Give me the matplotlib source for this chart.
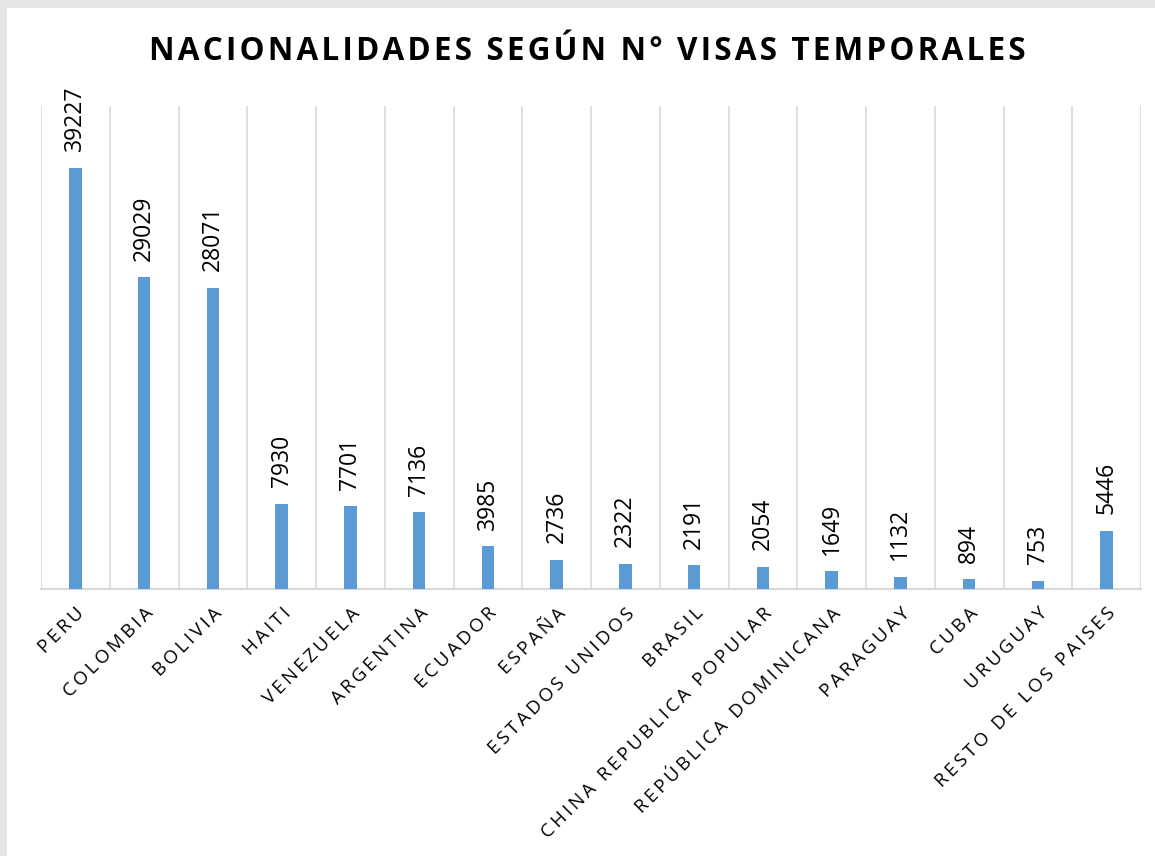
import matplotlib.pyplot as plt
from matplotlib.patches import Rectangle

# data
countries = ['PERU', 'COLOMBIA', 'BOLIVIA', 'HAITI', 'VENEZUELA', 'ARGENTINA',
             'ECUADOR', 'ESPAÑA', 'ESTADOS UNIDOS', 'BRASIL',
             'CHINA REPUBLICA POPULAR', 'REPÚBLICA DOMINICANA', 'PARAGUAY',
             'CUBA', 'URUGUAY', 'RESTO DE LOS PAISES']
visas = [39227, 29029, 28071, 7930, 7701, 7136, 3985, 2736, 2322, 2191,
         2054, 1649, 1132, 894, 753, 5446]

title = 'NACIONALIDADES SEGÚN N° VISAS TEMPORALES'


def spaced(text, sep='\u200a'):
    """Spread letters a little, like the Excel chart does."""
    return sep.join(text)


plt.rcParams['font.family'] = ['Open Sans', 'DejaVu Sans']

fig = plt.figure(figsize=(11.55, 8.56), dpi=100)
fig.patch.set_facecolor('#e6e6e6')
fig.patches.append(Rectangle((7 / 1155, 0), 1, 1 - 8 / 856, transform=fig.transFigure,
                             facecolor='white', edgecolor='none', zorder=-10))

ax = fig.add_axes([41 / 1155, 1 - 589 / 856, 1100 / 1155, 483 / 856])
ax.set_facecolor('none')

x = range(len(countries))
bars = ax.bar(x, visas, width=0.18, color='#5b9bd5', zorder=3)

for xi, v in zip(x, visas):
    ax.annotate(str(v), (xi, v), xytext=(0, 12), textcoords='offset points',
                rotation=90, ha='center', va='bottom', fontsize=16.5, color='black')

ax.set_xlim(-0.5, len(countries) - 0.5)
ax.set_ylim(0, 45000)

# vertical separators between categories
for b in range(len(countries) + 1):
    ax.axvline(b - 0.5, color='#d9d9d9', lw=1.2, zorder=1)

for s in ['left', 'right', 'top']:
    ax.spines[s].set_visible(False)
ax.spines['bottom'].set_color('#d9d9d9')
ax.spines['bottom'].set_linewidth(1.5)
ax.set_yticks([])
ax.set_xticks(list(x))
ax.set_xticklabels([spaced(c, '\u2009') for c in countries], rotation=45, ha='right',
                   rotation_mode='anchor', fontsize=13.5)
ax.tick_params(axis='x', length=0, pad=11)

fig.text(587 / 1155, 1 - 52 / 856, spaced(title), ha='center', va='center',
         fontsize=22.7, fontweight='bold')

fig.savefig('out.png', dpi=100)
